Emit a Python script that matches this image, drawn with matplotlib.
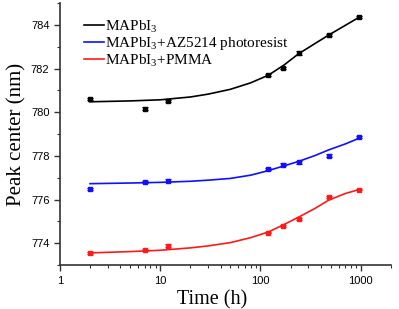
import matplotlib
matplotlib.use('Agg')
import matplotlib.pyplot as plt
from matplotlib.ticker import LogLocator, MultipleLocator, FixedFormatter, FixedLocator

plt.rcParams['mathtext.fontset'] = 'custom'
plt.rcParams['mathtext.rm'] = 'Liberation Serif'
plt.rcParams['mathtext.it'] = 'Liberation Serif:italic'

# measured points
time_h = [2, 7, 12, 120, 168, 240, 480, 960]
peak_mapbi3 = [780.61, 780.16, 780.52, 781.70, 782.03, 782.72, 783.54, 784.37]
peak_az5214 = [776.50, 776.82, 776.87, 777.41, 777.59, 777.72, 778.00, 778.86]
peak_pmma = [773.54, 773.68, 773.88, 774.49, 774.81, 775.11, 776.12, 776.46]
err_mapbi3 = [0.05, 0.06, 0.05, 0.05, 0.05, 0.08, 0.05, 0.05]
err_az5214 = [0.05, 0.05, 0.07, 0.06, 0.07, 0.07, 0.07, 0.05]
err_pmma = [0.04, 0.04, 0.07, 0.04, 0.05, 0.05, 0.06, 0.04]

# fitted curves
fit_t = [2, 5, 10, 20, 30, 50, 80, 120, 170, 240, 350, 480, 700, 960]
fit_mapbi3 = [780.48, 780.52, 780.57, 780.70, 780.83, 781.05, 781.35, 781.70,
              782.15, 782.68, 783.15, 783.54, 783.98, 784.35]
fit_az5214 = [776.73, 776.76, 776.79, 776.84, 776.89, 776.97, 777.12, 777.33,
              777.54, 777.75, 778.02, 778.28, 778.55, 778.81]
fit_pmma = [773.56, 773.62, 773.68, 773.79, 773.88, 774.03, 774.26, 774.52,
            774.85, 775.20, 775.60, 775.98, 776.28, 776.46]

labels = ['MAPbI$_3$', 'MAPbI$_3$+AZ5214 photoresist', 'MAPbI$_3$+PMMA']
colors = ['black', '#1010ff', '#ff1a1a']

fig = plt.figure(figsize=(3.99, 3.09), dpi=100)
ax = fig.add_axes([0.150, 0.142, 0.830, 0.848])

series = [(peak_mapbi3, err_mapbi3, fit_mapbi3),
          (peak_az5214, err_az5214, fit_az5214),
          (peak_pmma, err_pmma, fit_pmma)]
for (pk, er, ft), lab, c in zip(series, labels, colors):
    ax.plot(fit_t, ft, '-', color=c, lw=1.2, label=lab)
    ax.errorbar(time_h, pk, yerr=er, fmt='s', color=c, ms=2.5,
                capsize=2, elinewidth=0.8, capthick=0.8)

ax.set_xscale('log')
ax.set_xlim(1, 2000)
ax.set_ylim(773, 785)
ax.xaxis.set_major_locator(FixedLocator([1, 10, 100, 1000]))
ax.xaxis.set_major_formatter(FixedFormatter(['1', '10', '100', '1000']))
ax.xaxis.set_minor_locator(LogLocator(base=10, subs=range(2, 10), numticks=20))
ax.yaxis.set_major_locator(MultipleLocator(2))
ax.yaxis.set_minor_locator(MultipleLocator(1))

for s in ['top', 'right']:
    ax.spines[s].set_visible(False)
for s in ['left', 'bottom']:
    ax.spines[s].set_linewidth(1.2)
    ax.spines[s].set_color('#333333')

ax.tick_params(which='major', direction='out', length=4, width=1, labelsize=8,
               colors='#333333')
ax.tick_params(which='minor', direction='out', length=2, width=0.8, colors='#333333')
for t in ax.get_xticklabels() + ax.get_yticklabels():
    t.set_fontfamily('Liberation Sans')
    t.set_color('black')

ax.set_xlabel('Time (h)', family='Liberation Serif', fontsize=14.5)
ax.xaxis.set_label_coords(0.46, -0.095)
ax.set_ylabel('Peak center (nm)', family='Liberation Serif', fontsize=15, labelpad=3)

leg = ax.legend(loc='upper left', bbox_to_anchor=(0.045, 0.975), frameon=False,
                prop={'family': 'Liberation Serif', 'size': 11},
                handlelength=1.3, handletextpad=0.05, labelspacing=0.02,
                borderaxespad=0.2)
for h in leg.get_lines():
    h.set_linewidth(1.2)

fig.savefig('out.png', dpi=100)
